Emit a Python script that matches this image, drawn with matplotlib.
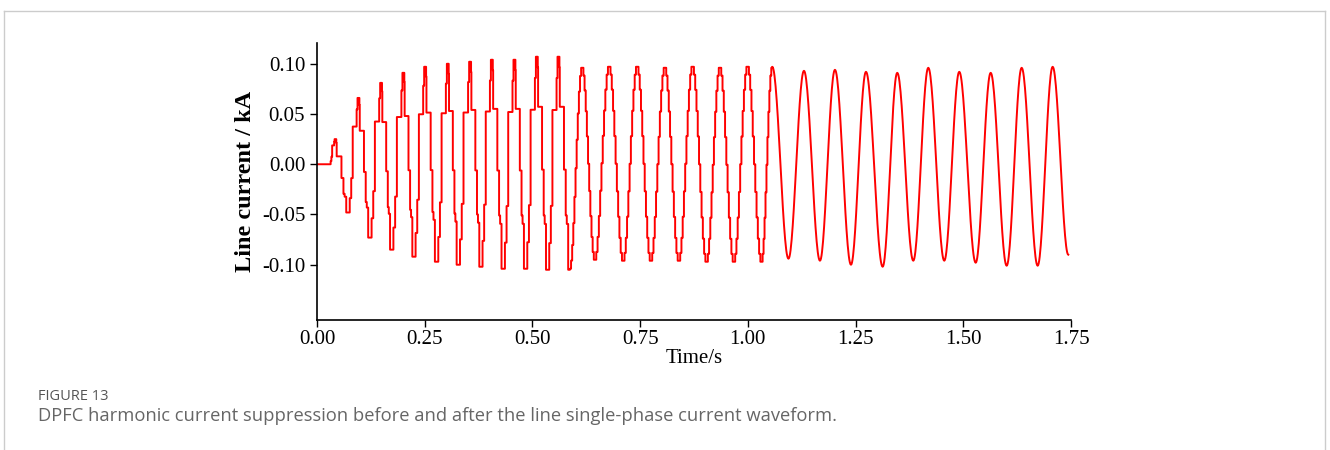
import numpy as np
import matplotlib.pyplot as plt
from matplotlib.lines import Line2D

plt.rcParams['font.family'] = ['Liberation Serif', 'DejaVu Serif']
plt.rcParams['axes.unicode_minus'] = False

# extrema of the line current (time in s, current in kA)
peak_t = [0.0418, 0.0958, 0.1485, 0.2003, 0.2506, 0.3033, 0.3551, 0.4054, 0.4579,
          0.5099, 0.5600, 0.6157, 0.6783, 0.7433, 0.8076, 0.8719, 0.9353, 0.9995,
          1.0566, 1.1302, 1.2021, 1.2741, 1.3467, 1.4187, 1.4906, 1.5635, 1.6354, 1.7073]
peak_v = [0.025, 0.066, 0.081, 0.091, 0.097, 0.100, 0.102, 0.104, 0.104,
          0.107, 0.107, 0.097, 0.098, 0.098, 0.097, 0.098, 0.097, 0.098,
          0.097, 0.093, 0.094, 0.092, 0.091, 0.096, 0.092, 0.091, 0.096, 0.097]
trough_t = [0.0726, 0.1230, 0.1734, 0.2251, 0.2778, 0.3279, 0.3806, 0.4324, 0.4843,
            0.5354, 0.5871, 0.6452, 0.7108, 0.7751, 0.8401, 0.9044, 0.9677, 1.0320,
            1.0942, 1.1673, 1.2393, 1.3128, 1.3839, 1.4558, 1.5287, 1.6006, 1.6725]
trough_v = [-0.048, -0.073, -0.085, -0.092, -0.097, -0.100, -0.102, -0.104, -0.104,
            -0.105, -0.105, -0.096, -0.097, -0.097, -0.097, -0.098, -0.098, -0.098,
            -0.094, -0.096, -0.100, -0.102, -0.096, -0.096, -0.098, -0.101, -0.101]
start_t, start_v = 0.030, 0.0
end_t, end_v = 1.7436, -0.090

# where the waveform changes from coarse steps to fine steps to a smooth sine
coarse_end = 0.59
fine_end = 1.057

# held levels inside one half-cycle: position in the half-cycle, share of the swing
fall_s = [0, 0.10, 0.13, 0.49, 0.64, 0.73, 0.85]
fall_frac = [0, 0.05, 0.235, 0.53, 0.745, 0.785, 1.0]
rise_s = [0, 0.15, 0.30, 0.45, 0.84, 0.93]
rise_frac = [0, 0.125, 0.30, 0.75, 0.90, 1.0]

ext_t = [start_t]
ext_v = [start_v]
for i in range(len(peak_t)):
    ext_t.append(peak_t[i]); ext_v.append(peak_v[i])
    if i < len(trough_t):
        ext_t.append(trough_t[i]); ext_v.append(trough_v[i])
ext_t.append(end_t); ext_v.append(end_v)

xs = [0.0, start_t]
ys = [0.0, 0.0]
for i in range(len(ext_t) - 1):
    t0, t1 = ext_t[i], ext_t[i + 1]
    v0, v1 = ext_v[i], ext_v[i + 1]
    mid = (t0 + t1) / 2
    if mid < coarse_end:
        s, fr = (fall_s, fall_frac) if v1 < v0 else (rise_s, rise_frac)
        edges = list(s) + [1.0]
        for k in range(len(s)):
            lv = v0 + fr[k] * (v1 - v0)
            xs += [t0 + edges[k] * (t1 - t0), t0 + edges[k + 1] * (t1 - t0)]
            ys += [lv, lv]
    elif mid < fine_end:
        n = 11
        for k in range(n):
            lv = v0 + (v1 - v0) * (1 - np.cos(np.pi * (k + 0.5) / n)) / 2
            xs += [t0 + k / n * (t1 - t0), t0 + (k + 1) / n * (t1 - t0)]
            ys += [lv, lv]
    else:
        s = np.linspace(0, 1, 30)
        xs += list(t0 + s * (t1 - t0))
        ys += list(v0 + (v1 - v0) * (1 - np.cos(np.pi * s)) / 2)

fig = plt.figure(figsize=(13.3, 4.5), dpi=100)
ax = fig.add_axes([0.2383, 0.2889, 0.567, 0.6156])

ax.plot(xs, ys, color='#ff0000', linewidth=1.4)

ax.set_xlim(0, 1.75)
ax.set_ylim(-0.155, 0.1207)
ax.set_xticks(np.arange(0, 1.76, 0.25))
ax.set_xticklabels(['%.2f' % v for v in np.arange(0, 1.76, 0.25)])
ax.set_yticks([-0.10, -0.05, 0.0, 0.05, 0.10])
ax.set_yticklabels(['-0.10', '-0.05', '0.00', '0.05', '0.10'])
ax.tick_params(labelsize=15, direction='out', length=5, width=1, colors='black')
ax.tick_params(axis='x', pad=2)
for side in ['top', 'right']:
    ax.spines[side].set_visible(False)
for side in ['left', 'bottom']:
    ax.spines[side].set_linewidth(1.2)
ax.set_xlabel('Time/s', fontsize=15, labelpad=0)
ax.set_ylabel('Line current / kA', fontsize=17.5, fontweight='bold', labelpad=4)

# page frame and caption
fig.add_artist(Line2D([0.003, 0.003], [0.0, 0.9756], color='#cccccc', lw=1))
fig.add_artist(Line2D([0.003, 0.9965], [0.9756, 0.9756], color='#cccccc', lw=1))
fig.add_artist(Line2D([0.9965, 0.9965], [0.0, 0.9756], color='#cccccc', lw=1))
fig.text(38 / 1330, 1 - 397 / 450, 'FIGURE 13', family='Open Sans', fontsize=10.5,
         color='#555555', va='center')
fig.text(38 / 1330, 1 - 416 / 450,
         'DPFC harmonic current suppression before and after the line single-phase current waveform.',
         family='Open Sans', fontsize=13.2, color='#666666', va='center')

plt.savefig('out.png', dpi=100)
